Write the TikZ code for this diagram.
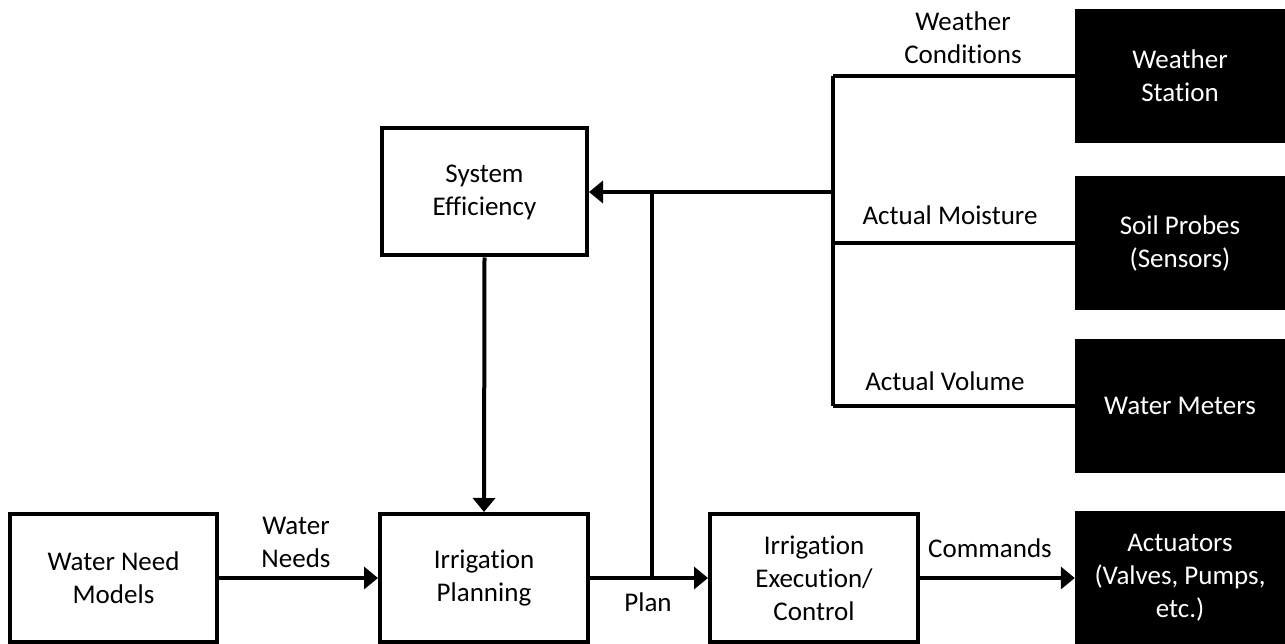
\documentclass[tikz,border=0pt]{standalone}
\usepackage{fontspec}
\setmainfont[Ligatures={NoCommon}]{Carlito}
\usetikzlibrary{arrows.meta}
\begin{document}
\begin{tikzpicture}[x=1pt,y=-1pt,
  every node/.style={font=\fontsize{27}{33}\selectfont, align=center},
  wbox/.style={draw, line width=4pt, fill=white, inner sep=0pt},
  bbox/.style={fill=black, text=white, inner sep=0pt, minimum width=210pt, minimum height=134pt},
  conn/.style={line width=4pt},
  arr/.style={conn, -{Triangle[length=14pt,width=22pt]}},
  lbl/.style={inner sep=0pt}]
\useasboundingbox (0,0) rectangle (1285,644);
% white boxes
\node[wbox, minimum width=207pt, minimum height=128pt] (wnm) at (113.5,578) {Water Need\\Models};
\node[wbox, minimum width=208pt, minimum height=128pt] (plan) at (484,578) {Irrigation\\Planning};
\node[wbox, minimum width=208pt, minimum height=128pt] (exec) at (814,578) {Irrigation\\Execution/\\Control};
\node[wbox, minimum width=205pt, minimum height=127pt] (eff) at (484.5,192) {System\\Efficiency};
% black boxes
\node[bbox] (ws) at (1180,76) {Weather\\Station};
\node[bbox] (sp) at (1180,243) {Soil Probes\\(Sensors)};
\node[bbox] (wm) at (1180,406) {Water Meters};
\node[bbox] (act) at (1180,578) {Actuators\\(Valves, Pumps,\\etc.)};
% coordinates
\coordinate (j1) at (652,578);
\coordinate (j2) at (652,192);
\coordinate (btop) at (833,76);
\coordinate (bmid) at (833,192);
\coordinate (bbot) at (833,406);
% connectors
\draw[arr] (wnm.east) -- (plan.west);
\draw[arr] (plan.east) -- (exec.west);
\draw[conn] (j1) -- (j2);
\draw[arr] (bmid) -- (eff.east);
\draw[conn] (btop) -- (bbot);
\draw[conn] (ws.west) -- (btop);
\draw[conn] (sp.west) -- (sp.west -| bmid);
\draw[conn] (wm.west) -- (bbot);
\draw[arr] (eff.south) -- (plan.north);
\draw[arr] (exec.east) -- (act.west);
% labels
\node[lbl] (lwc) at (963,38) {Weather\\Conditions};
\node[lbl] (lam) at (950,215) {Actual Moisture};
\node[lbl] (lav) at (945,381) {Actual Volume};
\node[lbl] (lcm) at (990,548) {Commands};
\node[lbl] (lpl) at (648,602) {Plan};
\node[lbl] (lwn) at (296,542) {Water\\Needs};
\end{tikzpicture}
\end{document}
